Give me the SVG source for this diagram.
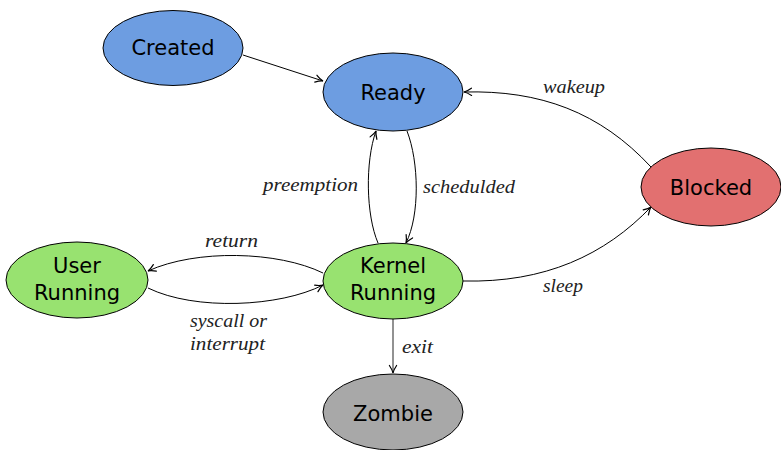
<svg xmlns="http://www.w3.org/2000/svg" width="781" height="450" viewBox="0 0 781 450">
  <defs>
    <marker id="tip" viewBox="-9 -5 11 10" refX="0" refY="0" markerWidth="11" markerHeight="10" markerUnits="userSpaceOnUse" orient="auto">
      <path d="M-7.5,-3.6 Q-3,-0.6 0,0 Q-3,0.6 -7.5,3.6" fill="none" stroke="#000" stroke-width="1.2" stroke-linecap="round"/>
    </marker>
  </defs>
  <style>
    .node { stroke: #000; stroke-width: 1; }
    .blue { fill: #6d9de1; }
    .green { fill: #98e270; }
    .red { fill: #e27070; }
    .grey { fill: #a8a8a8; }
    .name { font-family: "DejaVu Sans", sans-serif; font-size: 21px; fill: #000; text-anchor: middle; }
    .edge { fill: none; stroke: #000; stroke-width: 1; marker-end: url(#tip); }
    .lbl { font-family: "Liberation Serif", "Times New Roman", serif; font-style: italic; font-size: 19.5px; fill: #222; }
  </style>
  <rect width="781" height="450" fill="#fff"/>

  <g id="connectors">
    <path class="edge" d="M243,55 L323,81"/>
    <path class="edge" d="M407,131 C419,162 420,215 406,243"/>
    <path class="edge" d="M378,243 C366,215 365,162 376,131"/>
    <path class="edge" d="M323,273 C278,251 196,249 148,271"/>
    <path class="edge" d="M148,288 C195,311 280,307 323,285"/>
    <path class="edge" d="M463,281 C545,283 605,255 651,207"/>
    <path class="edge" d="M651,167 C600,112 540,90 464,92"/>
    <path class="edge" d="M393,319 L393,373" style="stroke:#777;stroke-width:1.6"/>
    <text class="lbl" x="543" y="93" textLength="62" lengthAdjust="spacingAndGlyphs">wakeup</text>
    <text class="lbl" x="263" y="191" textLength="95" lengthAdjust="spacingAndGlyphs">preemption</text>
    <text class="lbl" x="423" y="193" textLength="92" lengthAdjust="spacingAndGlyphs">schedulded</text>
    <text class="lbl" x="205" y="247" textLength="53" lengthAdjust="spacingAndGlyphs">return</text>
    <text class="lbl" x="190" y="327" textLength="77" lengthAdjust="spacingAndGlyphs">syscall or</text>
    <text class="lbl" x="190" y="350" textLength="75" lengthAdjust="spacingAndGlyphs">interrupt</text>
    <text class="lbl" x="543" y="292" textLength="40" lengthAdjust="spacingAndGlyphs">sleep</text>
    <text class="lbl" x="402" y="353" textLength="31" lengthAdjust="spacingAndGlyphs">exit</text>
  </g>

  <g id="created">
    <ellipse class="node blue" cx="173" cy="48" rx="70" ry="37.5"/>
    <text class="name" x="173" y="55">Created</text>
  </g>
  <g id="ready">
    <ellipse class="node blue" cx="393" cy="92" rx="70" ry="39"/>
    <text class="name" x="393" y="100">Ready</text>
  </g>
  <g id="blocked">
    <ellipse class="node red" cx="711" cy="187" rx="70" ry="39"/>
    <text class="name" x="711" y="195">Blocked</text>
  </g>
  <g id="user-running">
    <ellipse class="node green" cx="77" cy="280" rx="71" ry="38"/>
    <text class="name" x="77" y="273">User</text>
    <text class="name" x="77" y="300">Running</text>
  </g>
  <g id="kernel-running">
    <ellipse class="node green" cx="393" cy="281" rx="70" ry="38"/>
    <text class="name" x="393" y="273">Kernel</text>
    <text class="name" x="393" y="300">Running</text>
  </g>
  <g id="zombie">
    <ellipse class="node grey" cx="393" cy="412" rx="70" ry="38"/>
    <text class="name" x="393" y="421">Zombie</text>
  </g>
</svg>
